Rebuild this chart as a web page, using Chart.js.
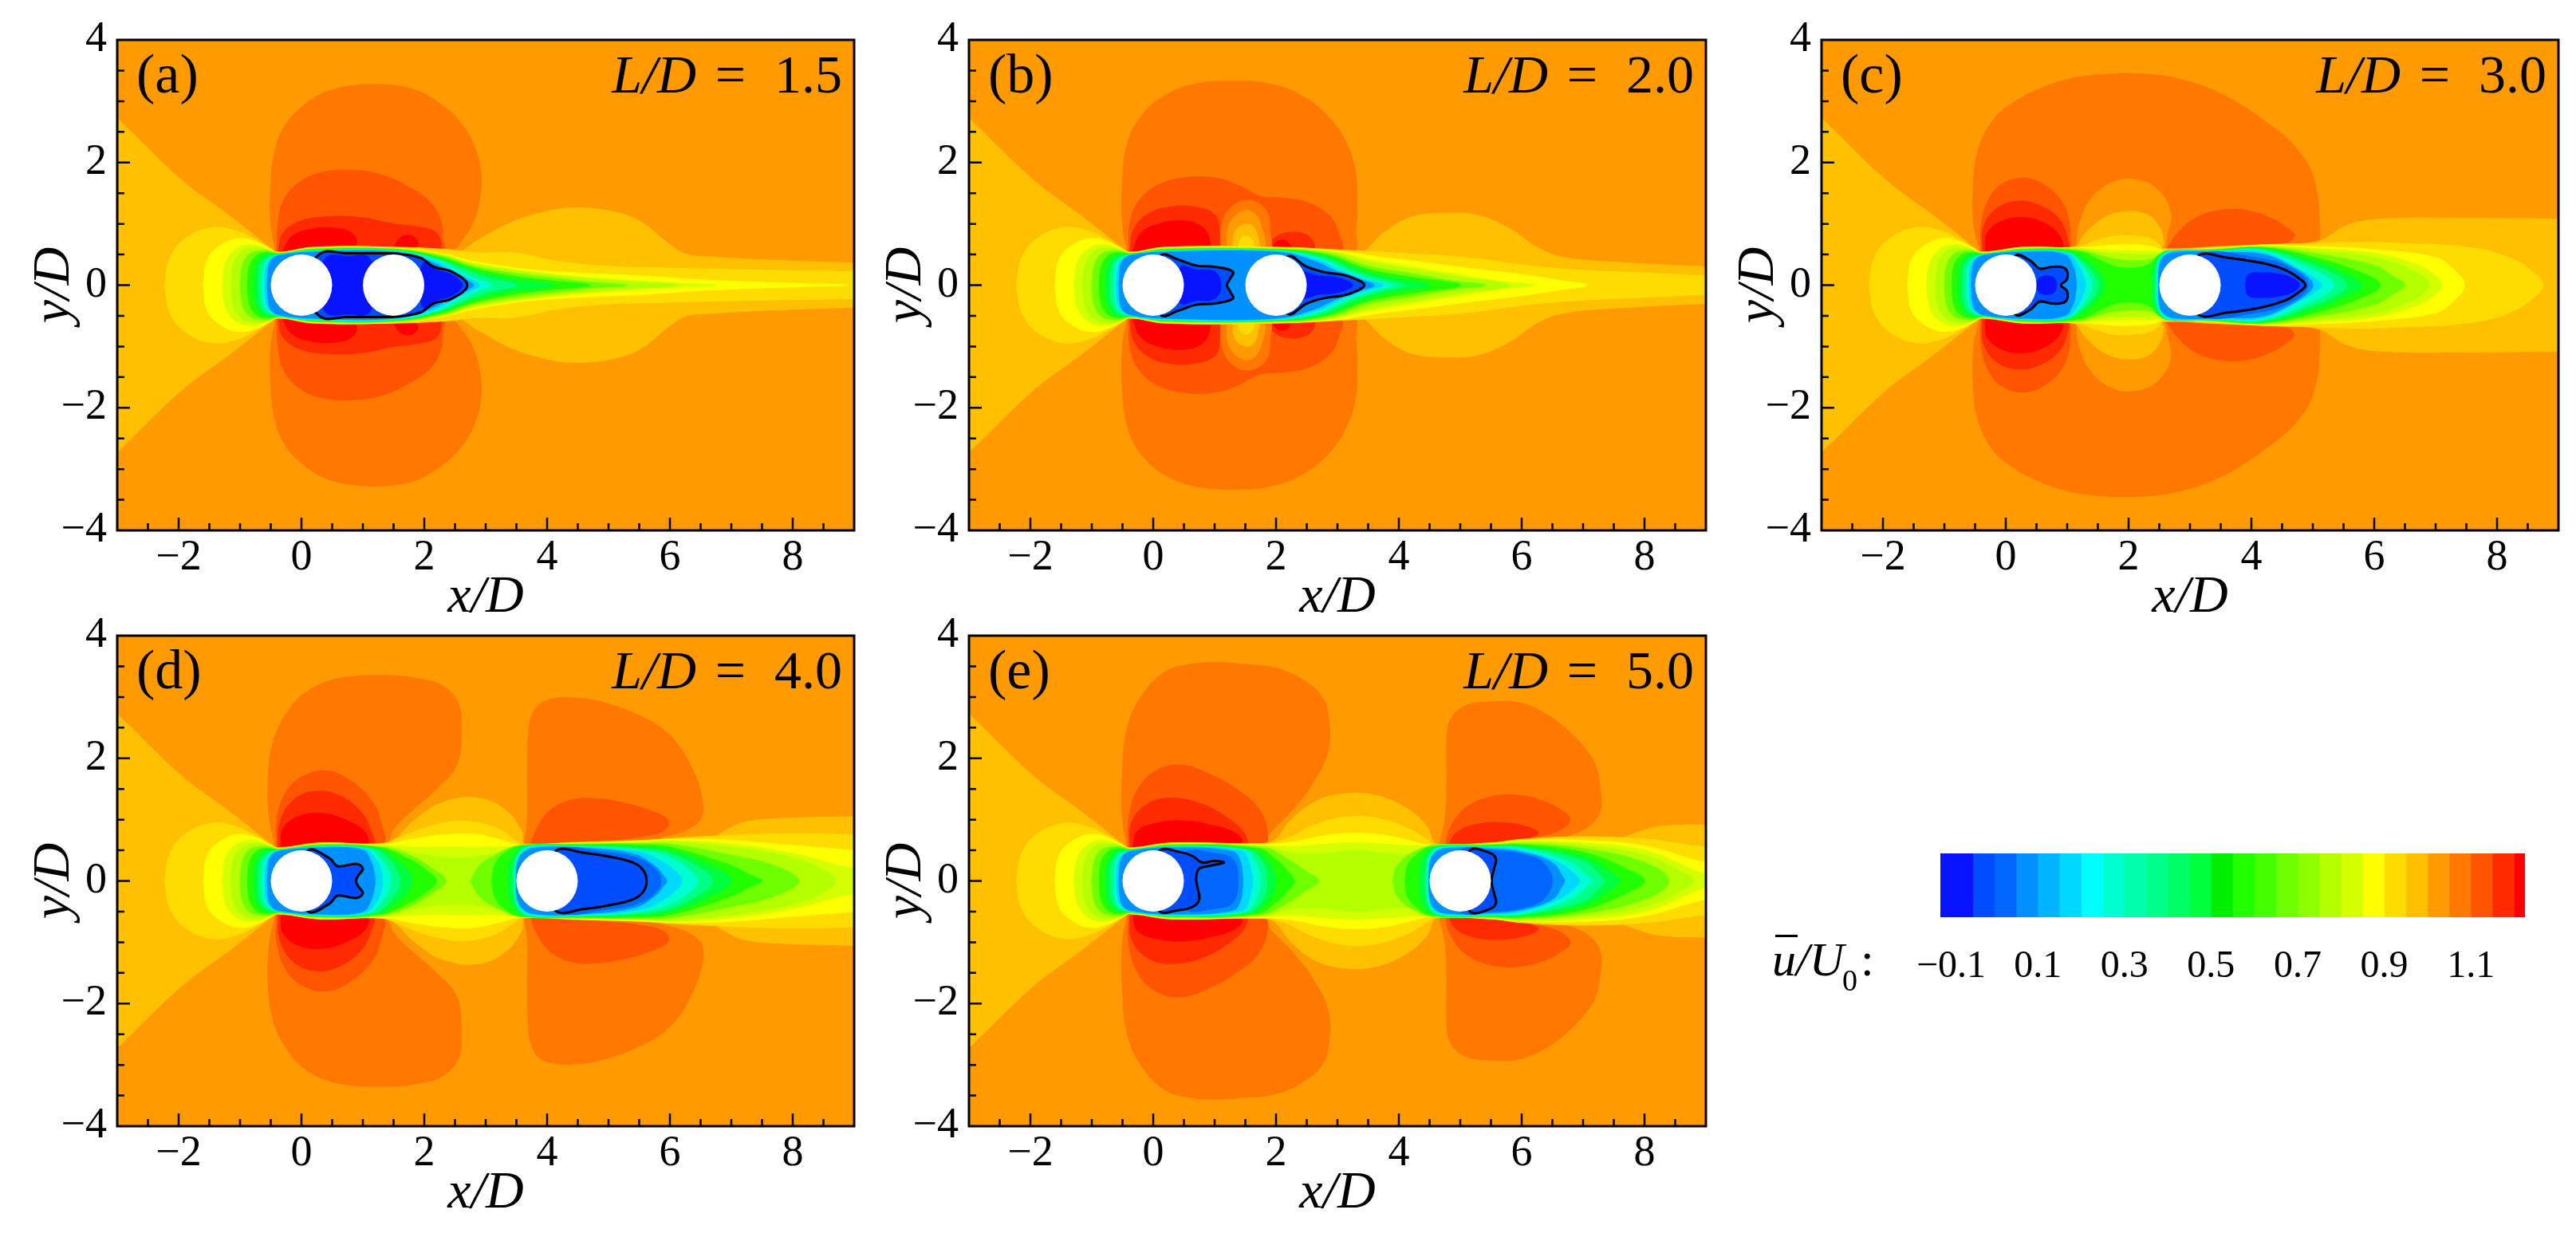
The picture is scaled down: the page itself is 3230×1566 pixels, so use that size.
<!DOCTYPE html>
<html>
<head>
<meta charset="utf-8">
<script src="https://cdn.jsdelivr.net/npm/chart.js@4.4.1/dist/chart.umd.min.js"></script>
<style>
html, body { margin: 0; padding: 0; background: #fff; }
body { width: 3230px; height: 1566px; position: relative; overflow: hidden; }
canvas { position: absolute; }
</style>
</head>
<body>
<canvas id="pa" width="1100" height="790" style="left:0px;top:0px"></canvas>
<canvas id="pb" width="1100" height="790" style="left:1068px;top:0px"></canvas>
<canvas id="pc" width="1093" height="790" style="left:2137px;top:0px"></canvas>
<canvas id="pd" width="1100" height="790" style="left:0px;top:747px"></canvas>
<canvas id="pe" width="1100" height="790" style="left:1068px;top:747px"></canvas>
<canvas id="cb" width="1000" height="260" style="left:2200px;top:1020px"></canvas>
<script>
// colour levels of u/U0 (band i spans bandEdges[i]..bandEdges[i+1])
const bandColors = ['#0814FF','#004CFF','#0066FF','#0090FF','#00B4FF','#00D8FF','#00FFFF','#00FFD0','#00FFAA',
  '#00FF88','#00FF66','#00FF3C','#00EE00','#22FF00','#44FF00','#70FF00','#90FF00','#B4FF00','#D4FF00',
  '#FFFF00','#FFDC00','#FFC000','#FF9A00','#FF7800','#FF5500','#FF2A00','#FF0000'];
const bandEdges = [-0.125,-0.05,0,0.05,0.1,0.15,0.2,0.25,0.3,0.35,0.4,0.45,0.5,0.55,0.6,0.65,0.7,0.75,
  0.8,0.85,0.9,0.95,1.0,1.05,1.1,1.15,1.2,1.225];
const cbTicks = [-0.1, 0.1, 0.3, 0.5, 0.7, 0.9, 1.1];

const xTicks = [-2, 0, 2, 4, 6, 8];
const yTicks = [-4, -2, 0, 2, 4];
const xRange = [-3, 9];
const yRange = [-4, 4];

const panelTags = ['(a)', '(b)', '(c)', '(d)', '(e)'];
const spacings = [1.5, 2.0, 3.0, 4.0, 5.0];

// contour outlines, upper half, [x, y, x, y, ...] in x/D, y/D
// 'f' = upstream bulge of that level + points, 'h' = half shape closed on y = 0,
// 'b' = closed blob repeated below the axis, 'p' = plain polygon
const frontBulge = [
  [1.0,  [-3.5,0, -3.5,3.15, -3,2.72, -1.96,1.72, -1.2,1.15, -0.75,0.8, -0.5,0.6, -0.4,0.54]],
  [0.95, [-2.23,0, -2.14,0.45, -1.88,0.77, -1.45,0.94, -1.05,0.88, -0.75,0.74, -0.52,0.6, -0.39,0.535]],
  [0.9,  [-1.6,0, -1.53,0.42, -1.3,0.66, -1.0,0.76, -0.72,0.7, -0.5,0.59, -0.38,0.53]],
  [0.85, [-1.29,0, -1.23,0.38, -1.05,0.6, -0.8,0.66, -0.58,0.6, -0.38,0.525]],
  [0.8,  [-1.15,0, -1.1,0.36, -0.95,0.56, -0.75,0.61, -0.55,0.58, -0.38,0.52]],
  [0.7,  [-1.0,0, -0.96,0.33, -0.84,0.51, -0.66,0.56, -0.5,0.55, -0.37,0.515]],
  [0.6,  [-0.88,0, -0.85,0.3, -0.75,0.47, -0.6,0.53, -0.37,0.51]],
  [0.5,  [-0.78,0, -0.75,0.28, -0.67,0.44, -0.55,0.51, -0.37,0.505]],
  [0.4,  [-0.7,0, -0.68,0.28, -0.6,0.43, -0.37,0.5]],
  [0.3,  [-0.64,0, -0.62,0.27, -0.55,0.41, -0.36,0.495]],
  [0.2,  [-0.6,0, -0.58,0.27, -0.52,0.41, -0.36,0.49]],
  [0.1,  [-0.56,0, -0.54,0.27, -0.49,0.41, -0.36,0.485]]
];

const lobesA = [
  [1.05, 'b', [-0.42,0.54, -0.5,1.0, -0.5,1.6, -0.45,2.1, -0.3,2.55, 0.0,2.9, 0.4,3.15, 0.9,3.26, 1.35,3.27, 1.8,3.2, 2.2,3.0, 2.55,2.7, 2.8,2.3, 2.92,1.85, 2.9,1.4, 2.78,1.0, 2.6,0.72, 2.42,0.55]],
  [1.1,  'b', [-0.4,0.54, -0.38,1.0, -0.28,1.4, 0.0,1.7, 0.4,1.85, 0.85,1.87, 1.3,1.8, 1.75,1.6, 2.1,1.35, 2.27,1.05, 2.3,0.75, 2.3,0.55]],
  [1.15, 'b', [-0.38,0.54, -0.3,0.85, 0.0,1.05, 0.5,1.12, 1.0,1.1, 1.5,1.0, 1.9,0.95, 2.2,0.85, 2.28,0.6, 2.25,0.55]],
  [1.2,  'b', [-0.3,0.56, -0.15,0.8, 0.2,0.92, 0.55,0.93, 0.82,0.85, 0.9,0.68, 0.8,0.58]],
  [1.2,  'b', [1.5,0.62, 1.62,0.78, 1.8,0.8, 1.9,0.68, 1.8,0.6]]
];
const wakeA = [
  [1.0,  'f', [1.0,0.6, 2.36,0.45, 2.87,0.73, 3.41,1.02, 4.03,1.21, 4.5,1.26, 5.11,1.19, 5.55,1.02, 5.95,0.7, 6.25,0.51, 6.7,0.46, 7.6,0.41, 9,0.36, 9.6,0.34, 9.6,0]],
  [0.95, 'f', [0.2,0.62, 1.5,0.62, 2.4,0.58, 2.8,0.53, 3.5,0.52, 4.1,0.4, 4.95,0.31, 6.0,0.28, 6.7,0.26, 9,0.22, 9.6,0.21, 9.6,0]],
  [0.9,  'f', [0.2,0.61, 1.5,0.61, 2.35,0.5, 2.8,0.39, 3.66,0.26, 4.5,0.2, 5.38,0.16, 6.68,0.08, 8.0,0.03, 8.9,0]],
  [0.85, 'f', [0.2,0.6, 1.5,0.6, 2.3,0.5, 2.8,0.36, 4.0,0.19, 5.0,0.1, 6.0,0.04, 6.75,0]],
  [0.8,  'f', [0.2,0.595, 1.5,0.595, 2.3,0.49, 2.8,0.34, 4.0,0.17, 5.0,0.08, 6.1,0]],
  [0.7,  'f', [0.2,0.59, 1.5,0.59, 2.3,0.47, 2.8,0.31, 3.5,0.19, 4.0,0.13, 4.7,0.05, 5.3,0]],
  [0.6,  'f', [0.2,0.58, 1.5,0.58, 2.25,0.46, 2.8,0.28, 3.5,0.14, 4.0,0.08, 4.7,0]],
  [0.5,  'f', [0.2,0.57, 1.5,0.57, 2.2,0.45, 2.8,0.24, 3.3,0.12, 4.1,0]],
  [0.4,  'f', [0.2,0.565, 1.5,0.565, 2.2,0.43, 2.8,0.2, 3.1,0.1, 3.5,0]],
  [0.3,  'f', [0.2,0.56, 1.5,0.56, 2.2,0.42, 2.6,0.22, 2.85,0.1, 3.1,0]],
  [0.2,  'f', [0.2,0.55, 1.5,0.55, 2.15,0.4, 2.5,0.22, 2.75,0.1, 2.9,0]],
  [0.1,  'f', [0.2,0.54, 1.5,0.54, 2.1,0.38, 2.45,0.2, 2.7,0.08, 2.8,0]],
  [0.0,  'h', [0,0, 0.3,0.51, 0.75,0.52, 1.2,0.52, 1.6,0.51, 1.95,0.44, 2.15,0.3, 2.45,0.22, 2.7,0]],
  [-0.05,'h', [0.3,0, 0.4,0.45, 0.75,0.47, 1.1,0.45, 1.2,0]],
  [-0.05,'h', [1.9,0, 2.0,0.38, 2.2,0.25, 2.45,0.17, 2.62,0]]
];

const lobesB = [
  [1.05, 'b', [-0.42,0.54, -0.5,1.0, -0.5,1.7, -0.42,2.3, -0.2,2.75, 0.2,3.1, 0.7,3.28, 1.3,3.33, 1.9,3.28, 2.4,3.1, 2.85,2.75, 3.15,2.3, 3.3,1.8, 3.32,1.3, 3.3,0.9, 3.25,0.55]],
  [1.1,  'b', [-0.4,0.54, -0.38,1.0, -0.25,1.35, 0.05,1.62, 0.5,1.75, 1.0,1.75, 1.4,1.62, 1.75,1.45, 2.1,1.42, 2.5,1.35, 2.85,1.15, 3.0,0.9, 3.03,0.55]],
  [1.15, 'b', [-0.38,0.54, -0.32,0.9, -0.1,1.15, 0.3,1.28, 0.7,1.27, 1.0,1.15, 1.08,0.9, 1.05,0.58]],
  [1.15, 'b', [1.88,0.58, 1.95,0.75, 2.2,0.86, 2.5,0.82, 2.62,0.68, 2.6,0.56]],
  [1.2,  'b', [-0.33,0.56, -0.2,0.85, 0.1,1.0, 0.45,1.05, 0.75,0.98, 0.9,0.8, 0.88,0.58]],
  [1.2,  'b', [1.92,0.58, 2.0,0.7, 2.15,0.73, 2.24,0.62, 2.2,0.57]]
];
const gapB = [
  [1.1,  'b', [1.1,0.56, 1.12,1.0, 1.3,1.3, 1.6,1.38, 1.85,1.2, 1.9,0.9, 1.88,0.56]],
  [1.05, 'b', [1.2,0.56, 1.22,0.95, 1.4,1.18, 1.6,1.2, 1.75,1.0, 1.78,0.56]],
  [1.0,  'b', [1.3,0.56, 1.32,0.85, 1.45,0.98, 1.6,0.98, 1.7,0.8, 1.7,0.56]],
  [0.95, 'b', [1.38,0.56, 1.42,0.75, 1.52,0.8, 1.62,0.72, 1.62,0.56]]
];
const wakeB = [
  [1.0,  'f', [1.0,0.6, 3.3,0.5, 3.76,0.86, 4.2,1.11, 4.74,1.17, 5.28,1.14, 5.81,0.92, 6.26,0.61, 6.71,0.45, 7.78,0.36, 9,0.3, 9.6,0.28, 9.6,0]],
  [0.95, 'f', [0.2,0.62, 2.0,0.62, 3.3,0.56, 4.2,0.51, 5.1,0.45, 6.0,0.33, 6.9,0.25, 8.0,0.2, 9,0.15, 9.6,0.14, 9.6,0]],
  [0.9,  'f', [0.2,0.61, 2.0,0.61, 3.0,0.56, 3.6,0.47, 4.4,0.37, 5.1,0.28, 6.0,0.17, 6.6,0.08, 7.07,0]],
  [0.85, 'f', [0.2,0.6, 2.0,0.6, 2.9,0.55, 3.5,0.42, 4.2,0.3, 5.0,0.17, 5.6,0.07, 6.2,0]],
  [0.8,  'f', [0.2,0.595, 2.0,0.595, 2.9,0.54, 3.5,0.38, 4.2,0.26, 5.0,0.13, 5.8,0]],
  [0.7,  'f', [0.2,0.59, 2.0,0.59, 2.85,0.52, 3.5,0.31, 4.2,0.19, 4.8,0.08, 5.4,0]],
  [0.6,  'f', [0.2,0.58, 2.0,0.58, 2.8,0.5, 3.5,0.26, 4.2,0.13, 5.0,0]],
  [0.5,  'f', [0.2,0.57, 2.0,0.57, 2.8,0.48, 3.5,0.21, 4.0,0.1, 4.5,0]],
  [0.4,  'f', [0.2,0.565, 2.0,0.565, 2.75,0.46, 3.3,0.22, 3.8,0.08, 4.1,0]],
  [0.3,  'f', [0.2,0.56, 2.0,0.56, 2.7,0.44, 3.2,0.22, 3.6,0.08, 3.9,0]],
  [0.2,  'f', [0.2,0.55, 2.0,0.55, 2.65,0.42, 3.1,0.22, 3.5,0.08, 3.75,0]],
  [0.1,  'f', [0.2,0.54, 2.0,0.54, 2.6,0.4, 3.0,0.22, 3.4,0.08, 3.6,0]],
  [0.0,  'h', [0,0, 0.13,0.49, 0.4,0.42, 0.7,0.32, 1.0,0.3, 1.3,0.22, 1.25,0.1, 1.2,0]],
  [0.0,  'h', [2,0, 2.2,0.47, 2.5,0.3, 2.8,0.21, 3.1,0.17, 3.3,0.1, 3.44,0]],
  [-0.05,'h', [0.4,0, 0.45,0.3, 0.7,0.25, 1.0,0.22, 1.1,0]],
  [-0.05,'h', [2.3,0, 2.35,0.22, 2.7,0.15, 3.0,0.12, 3.25,0]]
];

const lobesC = [
  [1.05, 'b', [-0.42,0.54, -0.52,1.0, -0.53,1.6, -0.45,2.2, -0.2,2.7, 0.16,3.0, 0.6,3.22, 1.02,3.36, 1.5,3.43, 2.0,3.45, 2.5,3.42, 2.91,3.34, 3.4,3.17, 3.85,2.93, 4.25,2.65, 4.54,2.43, 4.8,2.15, 4.97,1.86, 5.07,1.5, 5.1,1.2, 5.1,0.7, 5.0,0.6]],
  [1.1,  'b', [-0.4,0.54, -0.4,1.0, -0.25,1.45, 0.0,1.68, 0.35,1.74, 0.65,1.62, 0.9,1.38, 1.02,1.1, 1.05,0.8, 1.0,0.58]],
  [1.1,  'b', [2.6,0.57, 2.8,0.85, 3.1,1.1, 3.5,1.22, 3.9,1.22, 4.3,1.1, 4.6,0.92, 4.7,0.8, 4.5,0.66, 4.0,0.62, 3.2,0.58]],
  [1.15, 'b', [-0.38,0.54, -0.36,0.95, -0.15,1.25, 0.2,1.37, 0.55,1.3, 0.85,1.1, 0.98,0.85, 0.98,0.58]],
  [1.2,  'b', [-0.33,0.56, -0.3,0.85, -0.05,1.05, 0.3,1.1, 0.65,1.0, 0.88,0.8, 0.9,0.58]]
];
const gapC = [
  [1.05, 'b', [1.15,0.6, 1.2,1.0, 1.4,1.42, 1.75,1.68, 2.1,1.72, 2.45,1.58, 2.68,1.2, 2.62,0.8, 2.55,0.6]]
];
const wakeC = [
  [1.0,  'f', [0.3,0.62, 1.1,0.62, 1.3,0.85, 1.6,1.1, 1.95,1.2, 2.3,1.15, 2.5,0.95, 2.57,0.7, 2.55,0.6, 3.5,0.63, 4.5,0.67, 5.1,0.72, 5.57,0.98, 6.17,1.08, 7.5,1.09, 9,1.08, 9.6,1.08, 9.6,0]],
  [0.95, 'f', [0.3,0.62, 1.15,0.62, 1.45,0.72, 1.75,0.8, 2.05,0.8, 2.35,0.76, 2.5,0.66, 2.56,0.58, 3.5,0.62, 4.2,0.66, 5.0,0.68, 5.73,0.7, 6.5,0.68, 7.5,0.62, 8.2,0.45, 8.6,0.2, 8.75,0]],
  [0.9,  'f', [0.3,0.61, 1.2,0.61, 1.55,0.64, 1.9,0.66, 2.25,0.65, 2.48,0.6, 2.57,0.56, 3.5,0.61, 4.2,0.65, 5.0,0.63, 6.0,0.58, 7.0,0.45, 7.3,0.25, 7.47,0]],
  [0.85, 'f', [0.3,0.6, 1.2,0.6, 1.6,0.57, 2.0,0.56, 2.35,0.56, 2.55,0.55, 3.5,0.6, 4.2,0.64, 5.0,0.6, 6.0,0.52, 6.7,0.33, 7.0,0.15, 7.1,0]],
  [0.8,  'f', [0.3,0.595, 1.2,0.59, 1.65,0.52, 2.05,0.5, 2.4,0.5, 2.56,0.53, 3.5,0.595, 4.2,0.63, 5.0,0.57, 6.0,0.45, 6.6,0.25, 6.9,0]],
  [0.7,  'f', [0.3,0.59, 1.2,0.57, 1.7,0.44, 2.1,0.4, 2.4,0.43, 2.56,0.52, 3.5,0.59, 4.2,0.62, 5.0,0.52, 6.0,0.32, 6.3,0.15, 6.5,0]],
  [0.6,  'f', [0.3,0.58, 1.2,0.55, 1.55,0.4, 1.8,0.3, 2.1,0.28, 2.35,0.35, 2.52,0.5, 3.5,0.58, 4.2,0.61, 5.0,0.46, 5.8,0.2, 6.1,0]],
  [0.5,  'f', [0.3,0.57, 1.0,0.55, 1.3,0.42, 1.52,0.22, 1.62,0]],
  [0.5,  'h', [2.38,0, 2.4,0.3, 2.48,0.46, 2.62,0.56, 3.5,0.57, 4.2,0.6, 5.0,0.4, 5.5,0.2, 5.8,0]],
  [0.4,  'f', [0.3,0.565, 1.0,0.54, 1.25,0.38, 1.42,0.2, 1.5,0]],
  [0.4,  'h', [2.43,0, 2.45,0.3, 2.52,0.47, 2.66,0.56, 3.5,0.565, 4.2,0.58, 5.0,0.33, 5.4,0.15, 5.55,0]],
  [0.3,  'f', [0.3,0.56, 1.0,0.53, 1.22,0.36, 1.35,0.18, 1.4,0]],
  [0.3,  'h', [2.46,0, 2.47,0.3, 2.54,0.47, 2.7,0.555, 3.5,0.56, 4.2,0.56, 5.0,0.25, 5.25,0.12, 5.35,0]],
  [0.2,  'f', [0.3,0.55, 1.0,0.52, 1.18,0.33, 1.26,0.15, 1.3,0]],
  [0.2,  'h', [2.48,0, 2.49,0.3, 2.56,0.47, 2.75,0.55, 3.5,0.55, 4.2,0.53, 4.8,0.25, 5.05,0.1, 5.15,0]],
  [0.1,  'f', [0.3,0.54, 0.95,0.5, 1.1,0.3, 1.14,0.12, 1.15,0]],
  [0.1,  'h', [2.49,0, 2.5,0.3, 2.58,0.47, 2.8,0.54, 3.5,0.53, 4.2,0.5, 4.7,0.28, 4.95,0.1, 5.0,0]],
  [0.05, 'h', [3.0,0, 3.2,0.5, 4.0,0.46, 4.6,0.3, 4.92,0]],
  [0.0,  'h', [0,0, 0.16,0.48, 0.4,0.4, 0.55,0.27, 0.76,0.3, 0.97,0.27, 1.0,0.1, 0.9,0]],
  [0.0,  'h', [3,0, 3.13,0.48, 3.6,0.45, 4.18,0.36, 4.55,0.25, 4.75,0.13, 4.88,0]],
  [-0.05,'h', [3.9,0, 3.95,0.17, 4.2,0.2, 4.5,0.17, 4.7,0.1, 4.78,0]],
  [-0.05,'h', [0.5,0, 0.55,0.12, 0.7,0.15, 0.8,0.1, 0.82,0]]
];

const lobesD = [
  [1.05, 'b', [-0.42,0.54, -0.52,1.0, -0.54,1.7, -0.45,2.3, -0.2,2.8, 0.11,3.1, 0.6,3.3, 1.36,3.35, 1.9,3.3, 2.3,3.18, 2.55,2.9, 2.6,2.5, 2.53,1.9, 2.2,1.5, 1.8,1.15, 1.5,0.85, 1.35,0.6]],
  [1.05, 'b', [3.62,0.56, 3.68,1.0, 3.68,1.7, 3.7,2.4, 3.8,2.8, 4.05,2.96, 4.5,2.98, 4.95,2.9, 5.45,2.72, 5.85,2.5, 6.15,2.2, 6.35,1.85, 6.5,1.45, 6.52,1.05, 6.3,0.85, 5.9,0.72, 5.5,0.62]],
  [1.1,  'b', [-0.4,0.54, -0.4,1.0, -0.25,1.45, 0.05,1.72, 0.45,1.79, 0.85,1.6, 1.15,1.3, 1.28,1.0, 1.3,0.58]],
  [1.1,  'b', [3.72,0.57, 3.83,0.85, 4.05,1.15, 4.4,1.32, 4.8,1.34, 5.3,1.26, 5.75,1.12, 5.98,0.98, 5.9,0.82, 5.5,0.72, 4.8,0.65, 4.2,0.6]],
  [1.15, 'b', [-0.38,0.54, -0.35,0.95, -0.15,1.3, 0.2,1.46, 0.6,1.4, 0.95,1.15, 1.12,0.85, 1.15,0.58]],
  [1.2,  'b', [-0.33,0.56, -0.3,0.85, -0.05,1.05, 0.35,1.1, 0.75,0.98, 1.05,0.78, 1.05,0.58]]
];
const wakeD = [
  [1.0,  'f', [0.3,0.62, 1.2,0.6, 1.45,0.63, 1.85,1.0, 2.3,1.28, 2.89,1.35, 3.34,1.14, 3.58,0.82, 3.64,0.6, 4.5,0.62, 5.5,0.63, 6.2,0.62, 6.56,0.62, 6.9,0.82, 7.19,0.95, 7.64,1.01, 9,1.05, 9.6,1.05, 9.6,0]],
  [0.95, 'f', [0.3,0.62, 1.3,0.61, 1.7,0.75, 2.2,0.92, 2.7,0.97, 3.2,0.85, 3.5,0.65, 3.62,0.6, 4.5,0.63, 5.5,0.66, 6.5,0.72, 7.5,0.76, 8.2,0.77, 9,0.75, 9.6,0.75, 9.6,0]],
  [0.9,  'f', [0.3,0.61, 1.35,0.6, 1.8,0.68, 2.3,0.75, 2.8,0.76, 3.2,0.68, 3.5,0.6, 3.6,0.58, 4.5,0.62, 5.5,0.65, 6.0,0.68, 7.0,0.66, 8.0,0.58, 9,0.5, 9.6,0.48, 9.6,0]],
  [0.85, 'f', [0.3,0.6, 1.4,0.58, 1.9,0.55, 2.5,0.55, 3.0,0.55, 3.4,0.56, 3.55,0.57, 4.5,0.61, 5.5,0.63, 6.0,0.66, 7.0,0.6, 8.0,0.45, 9,0.2, 9.6,0.15, 9.6,0]],
  [0.8,  'f', [0.3,0.595, 1.4,0.56, 1.9,0.44, 2.5,0.38, 3.0,0.42, 3.35,0.5, 3.52,0.56, 4.5,0.6, 5.5,0.62, 6.0,0.64, 7.0,0.55, 8.0,0.38, 8.5,0.18, 8.7,0]],
  [0.7,  'f', [0.3,0.59, 1.3,0.55, 1.8,0.4, 2.1,0.22, 2.35,0]],
  [0.7,  'h', [2.75,0, 2.9,0.25, 3.15,0.42, 3.4,0.54, 3.6,0.585, 4.5,0.6, 5.5,0.61, 6.0,0.6, 7.0,0.42, 7.7,0.25, 8.1,0]],
  [0.6,  'f', [0.3,0.58, 1.3,0.54, 1.7,0.38, 2.0,0.2, 2.2,0]],
  [0.6,  'h', [3.1,0, 3.15,0.27, 3.3,0.45, 3.55,0.57, 4.5,0.59, 5.5,0.59, 6.0,0.55, 7.0,0.25, 7.3,0.1, 7.5,0]],
  [0.5,  'f', [0.3,0.57, 1.25,0.53, 1.5,0.38, 1.72,0.2, 1.8,0]],
  [0.5,  'h', [3.36,0, 3.38,0.25, 3.47,0.45, 3.62,0.57, 4.5,0.58, 5.5,0.56, 6.0,0.5, 6.6,0.28, 7.0,0]],
  [0.4,  'f', [0.3,0.565, 1.2,0.52, 1.4,0.38, 1.55,0.18, 1.6,0]],
  [0.4,  'h', [3.44,0, 3.46,0.25, 3.53,0.45, 3.68,0.565, 4.5,0.57, 5.5,0.53, 6.0,0.45, 6.5,0.2, 6.7,0]],
  [0.3,  'f', [0.3,0.56, 1.1,0.52, 1.3,0.35, 1.42,0.17, 1.45,0]],
  [0.3,  'h', [3.47,0, 3.49,0.25, 3.56,0.45, 3.73,0.56, 4.5,0.56, 5.5,0.5, 6.0,0.38, 6.35,0.15, 6.45,0]],
  [0.2,  'f', [0.3,0.55, 1.05,0.51, 1.22,0.34, 1.3,0.16, 1.32,0]],
  [0.2,  'h', [3.49,0, 3.5,0.25, 3.58,0.45, 3.78,0.55, 4.5,0.55, 5.5,0.47, 5.9,0.3, 6.15,0.1, 6.2,0]],
  [0.1,  'f', [0.3,0.54, 1.0,0.5, 1.13,0.32, 1.18,0.15, 1.2,0]],
  [0.1,  'h', [3.5,0, 3.51,0.25, 3.6,0.45, 3.83,0.54, 4.5,0.54, 5.4,0.44, 5.75,0.25, 5.9,0.08, 5.95,0]],
  [0.05, 'h', [4.1,0, 4.2,0.5, 5.0,0.46, 5.5,0.36, 5.8,0.15, 5.85,0]],
  [0.0,  'h', [0,0, 0.11,0.5, 0.46,0.37, 0.59,0.24, 0.89,0.28, 1.0,0.2, 0.92,0.08, 0.89,0]],
  [0.0,  'h', [4,0, 4.14,0.49, 4.6,0.46, 5.0,0.4, 5.4,0.3, 5.57,0.17, 5.62,0]]
];

const lobesE = [
  [1.05, 'b', [-0.42,0.54, -0.5,1.0, -0.5,1.8, -0.42,2.5, -0.2,3.0, 0.18,3.4, 0.6,3.53, 1.07,3.56, 1.5,3.53, 1.96,3.48, 2.4,3.3, 2.75,3.0, 2.86,2.6, 2.84,2.1, 2.6,1.6, 2.3,1.2, 1.96,0.85, 1.7,0.6]],
  [1.05, 'b', [4.65,0.56, 4.75,1.0, 4.78,1.6, 4.78,2.3, 4.85,2.65, 5.09,2.86, 5.5,2.92, 5.98,2.9, 6.4,2.72, 6.7,2.5, 7.0,2.2, 7.19,1.92, 7.28,1.5, 7.28,1.15, 7.1,0.9, 6.7,0.72, 6.2,0.62, 5.8,0.58]],
  [1.1,  'b', [-0.4,0.54, -0.4,1.0, -0.25,1.5, 0.05,1.8, 0.45,1.89, 0.9,1.75, 1.35,1.5, 1.7,1.2, 1.85,0.85, 1.8,0.6]],
  [1.1,  'b', [4.75,0.57, 4.85,0.9, 5.1,1.2, 5.5,1.37, 5.9,1.4, 6.3,1.32, 6.65,1.15, 6.79,1.0, 6.6,0.82, 6.1,0.7, 5.5,0.62]],
  [1.15, 'b', [-0.38,0.54, -0.35,0.95, -0.1,1.25, 0.3,1.35, 0.8,1.25, 1.25,1.0, 1.5,0.75, 1.5,0.58]],
  [1.15, 'b', [4.8,0.58, 4.95,0.8, 5.3,0.93, 5.7,0.95, 6.1,0.88, 6.27,0.78, 6.0,0.68, 5.4,0.62]],
  [1.2,  'b', [-0.33,0.56, -0.25,0.82, 0.1,0.95, 0.5,0.98, 0.9,0.92, 1.3,0.8, 1.45,0.65, 1.3,0.58]]
];
const wakeE = [
  [1.0,  'f', [0.3,0.62, 1.6,0.6, 1.95,0.65, 2.25,1.0, 2.65,1.3, 3.1,1.42, 3.6,1.4, 4.1,1.2, 4.45,0.9, 4.62,0.6, 5.5,0.62, 6.5,0.62, 7.28,0.58, 7.77,0.75, 8.21,0.88, 9,0.92, 9.6,0.93, 9.6,0]],
  [0.95, 'f', [0.3,0.62, 1.7,0.61, 2.1,0.66, 2.6,0.9, 3.1,1.04, 3.6,1.03, 4.1,0.88, 4.45,0.68, 4.6,0.6, 5.5,0.62, 6.0,0.68, 7.0,0.72, 8.0,0.68, 9,0.55, 9.6,0.5, 9.6,0]],
  [0.9,  'f', [0.3,0.61, 1.8,0.6, 2.3,0.64, 2.8,0.74, 3.3,0.78, 3.8,0.74, 4.2,0.65, 4.55,0.58, 5.5,0.61, 6.0,0.66, 7.0,0.66, 8.0,0.57, 9,0.3, 9.6,0.25, 9.6,0]],
  [0.85, 'f', [0.3,0.6, 1.8,0.58, 2.3,0.56, 2.8,0.6, 3.3,0.62, 3.8,0.6, 4.3,0.57, 4.55,0.57, 5.5,0.6, 6.0,0.65, 7.0,0.62, 8.0,0.5, 8.7,0.22, 9.1,0]],
  [0.8,  'f', [0.3,0.595, 1.8,0.56, 2.3,0.45, 2.8,0.45, 3.3,0.5, 3.8,0.45, 4.25,0.45, 4.5,0.56, 5.5,0.595, 6.0,0.63, 7.0,0.58, 8.0,0.42, 8.5,0.2, 8.8,0]],
  [0.7,  'f', [0.3,0.59, 1.8,0.54, 2.2,0.35, 2.5,0.15, 2.7,0]],
  [0.7,  'h', [3.9,0, 3.95,0.2, 4.1,0.38, 4.35,0.52, 4.6,0.59, 5.5,0.59, 6.0,0.61, 7.0,0.53, 8.0,0.3, 8.4,0]],
  [0.6,  'f', [0.3,0.58, 1.7,0.53, 2.0,0.35, 2.2,0.15, 2.3,0]],
  [0.6,  'h', [4.1,0, 4.14,0.25, 4.28,0.42, 4.5,0.55, 5.5,0.58, 6.0,0.59, 7.0,0.47, 7.7,0.2, 8.0,0]],
  [0.5,  'f', [0.3,0.57, 1.6,0.52, 1.85,0.35, 1.97,0.15, 2.0,0]],
  [0.5,  'h', [4.33,0, 4.35,0.25, 4.44,0.45, 4.6,0.56, 5.5,0.57, 6.0,0.57, 7.0,0.4, 7.45,0.15, 7.6,0]],
  [0.4,  'f', [0.3,0.565, 1.55,0.51, 1.75,0.35, 1.84,0.15, 1.85,0]],
  [0.4,  'h', [4.42,0, 4.44,0.25, 4.5,0.45, 4.65,0.555, 5.5,0.56, 6.0,0.55, 7.0,0.33, 7.25,0.12, 7.35,0]],
  [0.3,  'f', [0.3,0.56, 1.5,0.5, 1.65,0.34, 1.73,0.15, 1.75,0]],
  [0.3,  'h', [4.46,0, 4.47,0.25, 4.53,0.45, 4.7,0.55, 5.5,0.55, 6.0,0.53, 6.8,0.3, 7.05,0.1, 7.15,0]],
  [0.2,  'f', [0.3,0.55, 1.45,0.49, 1.55,0.33, 1.6,0.15, 1.62,0]],
  [0.2,  'h', [4.48,0, 4.49,0.25, 4.56,0.45, 4.75,0.54, 5.5,0.54, 6.0,0.5, 6.6,0.3, 6.88,0.1, 6.95,0]],
  [0.1,  'f', [0.3,0.54, 1.3,0.48, 1.42,0.32, 1.45,0.15, 1.46,0]],
  [0.1,  'h', [4.49,0, 4.5,0.25, 4.58,0.45, 4.8,0.53, 5.5,0.52, 6.0,0.47, 6.5,0.3, 6.65,0.1, 6.7,0]],
  [0.05, 'h', [0.3,0, 0.5,0.46, 1.0,0.45, 1.3,0.35, 1.38,0]],
  [0.05, 'h', [4.9,0, 5.0,0.5, 5.5,0.5, 6.0,0.44, 6.35,0.3, 6.5,0]],
  [0.0,  'p', [0,0, 0.1,0.49, 0.45,0.47, 0.65,0.4, 0.8,0.3, 1.0,0.33, 1.15,0.3, 0.95,0.25, 0.75,0.2, 0.7,0.05, 0.72,-0.1, 0.75,-0.3, 0.65,-0.42, 0.4,-0.48, 0.1,-0.49]],
  [0.0,  'h', [5,0, 5.16,0.5, 5.45,0.47, 5.58,0.37, 5.55,0.2, 5.51,0]]
];

const lobeSets = [lobesA, lobesB, lobesC, lobesD, lobesE];
const gapSets = [[], gapB, gapC, [], []];
const wakeSets = [wakeA, wakeB, wakeC, wakeD, wakeE];
const canvasIds = ['pa', 'pb', 'pc', 'pd', 'pe'];

Chart.defaults.font.family = "'Liberation Serif', 'Times New Roman', serif";
Chart.defaults.color = '#000';

const FONT = "'Liberation Serif', 'Times New Roman', serif";

function edgeIndex(v) { return bandEdges.findIndex(e => Math.abs(e - v) < 1e-6); }
function colorBelow(v) { return bandColors[edgeIndex(v) - 1]; }
function colorAbove(v) { return bandColors[edgeIndex(v)]; }

function pairs(flat) {
  const out = [];
  for (let k = 0; k < flat.length; k += 2) out.push({ x: flat[k], y: flat[k + 1] });
  return out;
}
function mirror(pts) { return pts.map(p => ({ x: p.x, y: -p.y })); }
function frontOf(level) {
  const f = frontBulge.find(e => Math.abs(e[0] - level) < 1e-6);
  return f ? f[1] : [];
}
function shapes(kind, flat, level) {
  if (kind === 'f') { flat = frontOf(level).concat(flat); kind = 'h'; }
  const pts = pairs(flat);
  if (kind === 'h') return [pts.concat(mirror(pts.slice(0, -1)).reverse())];
  const closed = pts.concat([pts[0]]);
  if (kind === 'b') return [closed, mirror(closed)];
  return [closed];
}

function areaSet(pts, color, tension) {
  return { data: pts, fill: 'shape', backgroundColor: color, borderColor: color, borderWidth: 1,
           tension: tension, pointRadius: 0, pointHoverRadius: 0 };
}

function makeDatasets(i) {
  const list = [];
  list.push(areaSet(pairs([xRange[0], yRange[0], xRange[1], yRange[0], xRange[1], yRange[1], xRange[0], yRange[1], xRange[0], yRange[0]]), bandColors[22], 0));
  const lobes = lobeSets[i].slice().sort((a, b) => a[0] - b[0]);
  lobes.forEach(([lv, kind, pts]) => shapes(kind, pts, lv).forEach(p => list.push(areaSet(p, colorAbove(lv), 0.4))));
  const gaps = gapSets[i].slice().sort((a, b) => b[0] - a[0]);
  gaps.forEach(([lv, kind, pts]) => shapes(kind, pts, lv).forEach(p => list.push(areaSet(p, colorBelow(lv), 0.4))));
  const wake = wakeSets[i].slice().sort((a, b) => b[0] - a[0]);
  wake.forEach(([lv, kind, pts]) => shapes(kind, pts, lv).forEach(p => list.push(areaSet(p, colorBelow(lv), 0.4))));
  // u = 0 contour line
  wake.filter(e => Math.abs(e[0]) < 1e-6).forEach(([lv, kind, pts]) => shapes(kind, pts, lv).forEach(p => list.push({
    data: p, fill: false, borderColor: '#000', borderWidth: 3, tension: 0.4, pointRadius: 0, pointHoverRadius: 0
  })));
  // cylinders
  list.push({
    data: [{ x: 0, y: 0 }, { x: spacings[i], y: 0 }], showLine: false,
    pointRadius: ctx => { const s = ctx.chart.scales.x; return s.getPixelForValue(0.5) - s.getPixelForValue(0); },
    pointHoverRadius: 0, pointBackgroundColor: '#fff', pointBorderColor: '#fff', pointBorderWidth: 0
  });
  list.forEach((d, k) => { d.order = list.length - k; });
  return list;
}

function tickText(v) { return (v < 0 ? '\u2212' : '') + Math.abs(v); }

function decor(i) {
  return {
    id: 'decor',
    afterDatasetsDraw(chart) {
      const { ctx, chartArea: a, scales: { x, y } } = chart;
      ctx.save();
      ctx.strokeStyle = '#000';
      ctx.lineWidth = 2.5;
      ctx.beginPath();
      for (let v = xRange[0] + 0.5; v < xRange[1]; v += 0.5) {
        const px = x.getPixelForValue(v);
        const len = xTicks.includes(v) ? 16 : 9;
        ctx.moveTo(px, a.bottom); ctx.lineTo(px, a.bottom - len);
      }
      for (let v = yRange[0] + 0.5; v < yRange[1]; v += 0.5) {
        const py = y.getPixelForValue(v);
        const len = yTicks.includes(v) ? 16 : 9;
        ctx.moveTo(a.left, py); ctx.lineTo(a.left + len, py);
      }
      ctx.stroke();
      ctx.lineWidth = 3;
      ctx.strokeRect(a.left, a.top, a.right - a.left, a.bottom - a.top);
      ctx.fillStyle = '#000';
      ctx.textBaseline = 'alphabetic';
      ctx.font = '70px ' + FONT;
      ctx.textAlign = 'left';
      ctx.fillText(panelTags[i], a.left + 24, a.top + 66);
      ctx.font = '68px ' + FONT;
      ctx.textAlign = 'right';
      ctx.fillText(spacings[i].toFixed(1), a.right - 15, a.top + 66);
      ctx.textAlign = 'center';
      ctx.fillText('=', a.right - 155, a.top + 66);
      ctx.font = 'italic 68px ' + FONT;
      ctx.textAlign = 'right';
      ctx.fillText('L/D', a.right - 198, a.top + 66);
      ctx.restore();
    }
  };
}

function buildPanel(i) {
  const canvas = document.getElementById(canvasIds[i]);
  const padR = canvas.width - 147 - 924;
  const padB = canvas.height - 50 - 615 - 118;
  new Chart(canvas, {
    type: 'line',
    data: { datasets: makeDatasets(i) },
    options: {
      responsive: false, animation: false, devicePixelRatio: 1, events: [],
      layout: { padding: { left: 0, top: 50, right: padR, bottom: padB } },
      plugins: { legend: { display: false }, tooltip: { enabled: false } },
      scales: {
        x: {
          type: 'linear', min: xRange[0], max: xRange[1],
          afterBuildTicks: s => { s.ticks = xTicks.map(v => ({ value: v })); },
          afterFit: s => { s.height = 118; },
          grid: { display: false, drawTicks: false }, border: { display: false },
          ticks: { padding: 2, autoSkip: false, maxRotation: 0, font: { size: 54 }, color: '#000', callback: tickText },
          title: { display: true, text: 'x/D', color: '#000', padding: 0, font: { size: 66, style: 'italic', lineHeight: 1 } }
        },
        y: {
          type: 'linear', min: yRange[0], max: yRange[1],
          afterBuildTicks: s => { s.ticks = yTicks.map(v => ({ value: v })); },
          afterFit: s => { s.width = 147; },
          grid: { display: false, drawTicks: false }, border: { display: false },
          ticks: { padding: 13, autoSkip: false, font: { size: 54 }, color: '#000', callback: tickText },
          title: { display: true, text: 'y/D', color: '#000', padding: { top: 36, bottom: 0 }, font: { size: 66, style: 'italic', lineHeight: 1 } }
        }
      }
    },
    plugins: [decor(i)]
  });
}

for (let i = 0; i < 5; i++) buildPanel(i);

const cbLabel = {
  id: 'cbLabel',
  afterDraw(chart) {
    const ctx = chart.ctx;
    ctx.save();
    ctx.fillStyle = '#000';
    ctx.textBaseline = 'alphabetic';
    ctx.textAlign = 'left';
    let x = 22;
    ctx.font = 'italic 60px ' + FONT;
    const wu = ctx.measureText('u').width;
    ctx.fillText('u', x, 203);
    ctx.fillRect(x + 4, 152, wu - 2, 3);
    x += wu;
    ctx.fillText('/U', x, 203);
    x += ctx.measureText('/U').width;
    ctx.font = '38px ' + FONT;
    ctx.fillText('0', x - 2, 222);
    x += ctx.measureText('0').width;
    ctx.font = '60px ' + FONT;
    ctx.fillText(':', x + 2, 203);
    ctx.restore();
  }
};

new Chart(document.getElementById('cb'), {
  type: 'bar',
  data: {
    labels: [''],
    datasets: bandColors.map((c, i) => ({
      data: [[bandEdges[i], bandEdges[i + 1]]], backgroundColor: c, borderWidth: 0,
      barPercentage: 1, categoryPercentage: 1, grouped: false
    }))
  },
  options: {
    indexAxis: 'y', responsive: false, animation: false, devicePixelRatio: 1, events: [],
    layout: { padding: { left: 233, right: 34, top: 50, bottom: 50 } },
    plugins: { legend: { display: false }, tooltip: { enabled: false } },
    scales: {
      x: {
        type: 'linear', min: bandEdges[0], max: bandEdges[bandEdges.length - 1],
        afterBuildTicks: s => { s.ticks = cbTicks.map(v => ({ value: v })); },
        afterFit: s => { s.height = 80; },
        grid: { display: false, drawTicks: false }, border: { display: false },
        ticks: { padding: 34, autoSkip: false, maxRotation: 0, font: { size: 48 }, color: '#000',
                 callback: v => (v < 0 ? '\u2212' : '') + Math.abs(v).toFixed(1) }
      },
      y: { display: false }
    }
  },
  plugins: [cbLabel]
});
</script>
</body>
</html>
